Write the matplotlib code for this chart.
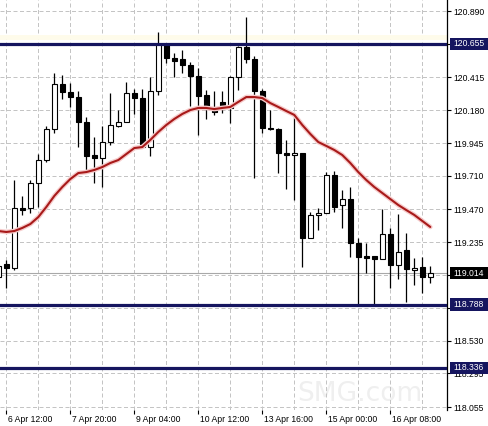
import matplotlib
matplotlib.use("Agg")
import matplotlib.pyplot as plt
import matplotlib.transforms as mtransforms
from matplotlib.patches import Rectangle

# ---------------- data (H4 candles) ----------------
candle_index = list(range(-1, 54))
opens = [118.986, 119.079, 119.050, 119.480, 119.480, 119.659, 119.823, 120.045, 120.367, 120.310,
         120.274, 120.095, 119.859, 119.838, 119.952, 120.067, 120.095, 120.303, 120.267, 119.916,
         120.317, 120.647, 120.554, 120.546, 120.503, 120.425, 120.289, 120.196, 120.239, 120.196,
         120.418, 120.632, 120.546, 120.317, 120.052, 120.045, 119.873, 119.859, 119.873, 119.265,
         119.430, 119.444, 119.716, 119.501, 119.544, 119.229, 119.136, 119.136, 119.115, 119.294,
         119.072, 119.179, 119.036, 119.057, 118.986]
highs = [119.079, 119.108, 119.680, 119.566, 119.680, 119.866, 120.067, 120.446, 120.432, 120.375,
         120.317, 120.131, 119.988, 120.067, 120.303, 120.181, 120.382, 120.332, 120.332, 120.418,
         120.740, 120.661, 120.589, 120.611, 120.525, 120.482, 120.324, 120.317, 120.317, 120.425,
         120.639, 120.847, 120.568, 120.332, 120.181, 120.052, 119.967, 120.131, 119.873, 119.451,
         119.480, 119.737, 119.745, 119.609, 119.630, 119.265, 119.229, 119.136, 119.473, 119.337,
         119.437, 119.301, 119.122, 119.129, 119.065]
lows = [118.964, 118.907, 119.036, 119.430, 119.444, 119.487, 119.809, 120.017, 120.260, 120.203,
        119.916, 119.737, 119.659, 119.630, 119.931, 120.060, 120.095, 120.153, 119.909, 119.852,
        120.289, 120.518, 120.418, 120.446, 120.210, 120.002, 120.117, 120.146, 120.160, 120.088,
        120.324, 120.518, 119.695, 120.017, 120.038, 119.730, 119.616, 119.537, 119.057, 119.265,
        119.322, 119.444, 119.451, 119.337, 119.129, 118.783, 119.014, 118.783, 119.115, 118.907,
        118.971, 118.807, 118.929, 118.871, 118.943]
closes = [119.065, 119.050, 119.480, 119.465, 119.659, 119.823, 120.045, 120.367, 120.310, 120.274,
          120.095, 119.852, 119.838, 119.952, 120.074, 120.095, 120.303, 120.267, 119.916, 120.317,
          120.654, 120.554, 120.532, 120.503, 120.425, 120.282, 120.196, 120.167, 120.196, 120.418,
          120.632, 120.546, 120.317, 120.052, 120.045, 119.873, 119.859, 119.873, 119.265, 119.430,
          119.444, 119.716, 119.487, 119.544, 119.229, 119.129, 119.122, 119.115, 119.294, 119.072,
          119.165, 119.043, 119.050, 118.986, 119.014]
ma_values = [119.315, 119.308, 119.315, 119.337, 119.365, 119.415, 119.487, 119.566, 119.630, 119.687,
             119.730, 119.737, 119.752, 119.773, 119.802, 119.823, 119.866, 119.909, 119.916, 119.967,
             120.024, 120.074, 120.117, 120.153, 120.181, 120.196, 120.196, 120.188, 120.196, 120.203,
             120.239, 120.274, 120.274, 120.267, 120.231, 120.203, 120.174, 120.146, 120.074, 120.010,
             119.952, 119.924, 119.895, 119.859, 119.802, 119.737, 119.680, 119.630, 119.587, 119.544,
             119.501, 119.465, 119.430, 119.387, 119.344]

ytick_values = [118.055, 118.295, 118.530, 118.765, 119.000, 119.235, 119.470,
                119.710, 119.945, 120.180, 120.415, 120.655, 120.890]
# labels hidden behind the price boxes are left blank
ytick_labels = ["118.055", "118.295", "118.530", "", "", "119.235", "119.470",
                "119.710", "119.945", "120.180", "120.415", "", "120.890"]
xtick_positions = [0, 8, 16, 24, 32, 40, 48]
xtick_labels = ["6 Apr 12:00", "7 Apr 20:00", "9 Apr 04:00", "10 Apr 12:00",
                "13 Apr 16:00", "15 Apr 00:00", "16 Apr 08:00"]
xgrid_positions = list(range(0, 56, 4))
level_lines = [120.655, 118.788, 118.336]
level_labels = ["120.655", "118.788", "118.336"]
current_price = 119.014
current_label = "119.014"
pale_levels = [120.704]

# ---------------- styling ----------------
FONT = "Liberation Sans"
FS = 6.2
NAVY = "#15155f"
W, H = 489, 426
ax_left_px, ax_right_px, ax_bottom_px = 0, 447, 410
y_top, y_bottom = 120.9688, 118.0336

fig = plt.figure(figsize=(W / 100, H / 100), dpi=100)
fig.patch.set_facecolor("white")
ax = fig.add_axes([ax_left_px / W, 1 - ax_bottom_px / H,
                   (ax_right_px - ax_left_px) / W, ax_bottom_px / H])
ax.patch.set_facecolor("none")

# faint watermark
fig.text(0.735, 0.075, "SMG.com", fontsize=19, color="#efefef", ha="center",
         va="center", family="DejaVu Sans", zorder=-5)

ax.set_xlim(-0.79, 55.09)
ax.set_ylim(y_bottom, y_top)

# grid
for gx in xgrid_positions:
    ax.axvline(gx, color="#c4c4c4", lw=0.72, ls=(0, (4, 2.5)), zorder=0.5)
for gy in ytick_values:
    ax.axhline(gy, color="#c4c4c4", lw=0.72, ls=(0, (4, 2.5)), zorder=0.5)

for pv in pale_levels:
    ax.axhline(pv, color="#fefbea", lw=3.5, zorder=0.6)

# current price line
ax.axhline(current_price, color="#a8a8a8", lw=0.8, zorder=0.8)

# candles
body_w = 0.62
for i, o, h, l, c in zip(candle_index, opens, highs, lows, closes):
    ax.vlines(i, l, h, color="black", lw=0.9, zorder=2)
    bottom = min(o, c)
    height = abs(c - o)
    face = "white" if c >= o else "black"
    ax.bar(i, height, bottom=bottom, width=body_w, color=face,
           edgecolor="black", linewidth=0.8, zorder=3)

# moving average
ax.plot(candle_index, ma_values, color="#f6cccc", lw=3.4, zorder=4,
        solid_capstyle="round", solid_joinstyle="round")
ax.plot(candle_index, ma_values, color="#a81a1a", lw=1.5, zorder=5,
        solid_capstyle="round", solid_joinstyle="round")

# level lines
for lv in level_lines:
    ax.axhline(lv, color=NAVY, lw=2.3, zorder=6)

# axes frame
for s in ["left", "top", "bottom"]:
    ax.spines[s].set_visible(False)
ax.spines["right"].set_color("black")
ax.spines["right"].set_linewidth(0.9)

ax.yaxis.tick_right()
ax.set_yticks(ytick_values)
ax.set_yticklabels(ytick_labels, fontsize=FS, family=FONT)
ax.tick_params(axis="y", direction="out", length=3, width=0.8, pad=1.6,
               colors="black", right=True, left=False)

ax.set_xticks(xtick_positions)
ax.set_xticklabels(xtick_labels, fontsize=FS, family=FONT)
ax.tick_params(axis="x", direction="out", length=3, width=0.8, pad=0.6,
               colors="black", bottom=True, top=False)
offset = mtransforms.ScaledTranslation(1.2 / 72, 0, fig.dpi_scale_trans)
for lab in ax.get_xticklabels():
    lab.set_horizontalalignment("left")
    lab.set_transform(lab.get_transform() + offset)

# price label boxes on the right axis
trans = mtransforms.blended_transform_factory(fig.transFigure, ax.transData)
px_per_unit = ax_bottom_px / (y_top - y_bottom)
box_h = 12.5 / px_per_unit
box_x0 = 450 / W
box_w = (W - 450) / W
for lv, lt in zip(level_lines, level_labels):
    ax.add_patch(Rectangle((box_x0, lv - box_h / 2), box_w, box_h, transform=trans,
                           facecolor=NAVY, edgecolor="none", clip_on=False, zorder=10))
    ax.text(453 / W, lv, lt, transform=trans, color="white", fontsize=FS, family=FONT,
            ha="left", va="center", zorder=11, clip_on=False)
ax.add_patch(Rectangle((box_x0, current_price - box_h / 2), box_w, box_h, transform=trans,
                       facecolor="black", edgecolor="none", clip_on=False, zorder=10))
ax.text(453 / W, current_price, current_label, transform=trans, color="white", fontsize=FS,
        family=FONT, ha="left", va="center", zorder=11, clip_on=False)

fig.savefig("out.png", dpi=100, facecolor="white")
